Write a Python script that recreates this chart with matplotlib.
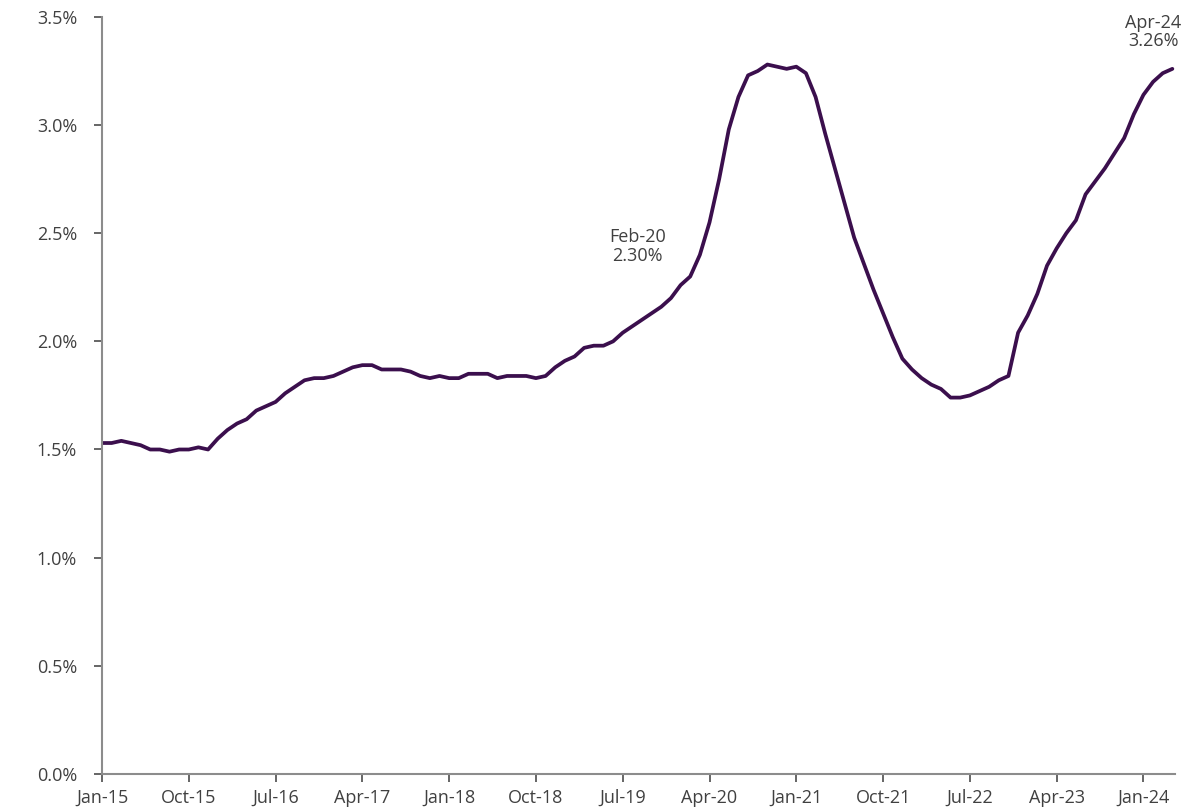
import matplotlib
matplotlib.use("Agg")
import matplotlib.pyplot as plt

# monthly values, Jan-15 .. Apr-24 (%)
rate = [
    1.53, 1.53, 1.54, 1.53, 1.52, 1.50, 1.50, 1.49, 1.50, 1.50, 1.51, 1.50,  # 2015
    1.55, 1.59, 1.62, 1.64, 1.68, 1.70, 1.72, 1.76, 1.79, 1.82, 1.83, 1.83,  # 2016
    1.84, 1.86, 1.88, 1.89, 1.89, 1.87, 1.87, 1.87, 1.86, 1.84, 1.83, 1.84,  # 2017
    1.83, 1.83, 1.85, 1.85, 1.85, 1.83, 1.84, 1.84, 1.84, 1.83, 1.84, 1.88,  # 2018
    1.91, 1.93, 1.97, 1.98, 1.98, 2.00, 2.04, 2.07, 2.10, 2.13, 2.16, 2.20,  # 2019
    2.26, 2.30, 2.40, 2.55, 2.75, 2.98, 3.13, 3.23, 3.25, 3.28, 3.27, 3.26,  # 2020
    3.27, 3.24, 3.13, 2.96, 2.80, 2.64, 2.48, 2.36, 2.24, 2.13, 2.02, 1.92,  # 2021
    1.87, 1.83, 1.80, 1.78, 1.74, 1.74, 1.75, 1.77, 1.79, 1.82, 1.84, 2.04,  # 2022
    2.12, 2.22, 2.35, 2.43, 2.50, 2.56, 2.68, 2.74, 2.80, 2.87, 2.94, 3.05,  # 2023
    3.14, 3.20, 3.24, 3.26,                                                  # 2024
]
months = list(range(len(rate)))

tick_pos = list(range(0, 109, 9))
tick_labels = ["Jan-15", "Oct-15", "Jul-16", "Apr-17", "Jan-18", "Oct-18", "Jul-19",
               "Apr-20", "Jan-21", "Oct-21", "Jul-22", "Apr-23", "Jan-24"]

text_col = "#404040"
plt.rcParams['font.family'] = ['Open Sans', 'DejaVu Sans']

fig = plt.figure(figsize=(11.82, 8.07), dpi=100)
ax = fig.add_axes([0.0863, 0.041, 0.908, 0.938])

ax.plot(months, rate, color="#3b0f4d", linewidth=2.7, solid_joinstyle="round",
        solid_capstyle="round")

ax.set_xlim(0, 111.3)
ax.set_ylim(0, 3.5)
ax.set_yticks([0, 0.5, 1.0, 1.5, 2.0, 2.5, 3.0, 3.5])
ax.set_yticklabels([f"{v:.1f}%" for v in ax.get_yticks()])
ax.set_xticks(tick_pos)
ax.set_xticklabels(tick_labels)

for s in ["top", "right"]:
    ax.spines[s].set_visible(False)
for s in ["left", "bottom"]:
    ax.spines[s].set_color("#8c8c8c")
    ax.spines[s].set_linewidth(1.5)
ax.tick_params(axis="both", colors="#595959", length=6, width=1.3, direction="out",
               labelsize=13, labelcolor=text_col)
ax.tick_params(axis="x", pad=5)
ax.tick_params(axis="y", pad=12)

# labels for Feb-20 and the latest month
ax.text(55.5, 2.44, "Feb-20\n2.30%", ha="center", va="center", fontsize=13,
        color=text_col, linespacing=1.05)
ax.text(109.0, 3.43, "Apr-24\n3.26%", ha="center", va="center", fontsize=13,
        color=text_col, linespacing=1.05, clip_on=False)

fig.savefig("out.png", dpi=100)
